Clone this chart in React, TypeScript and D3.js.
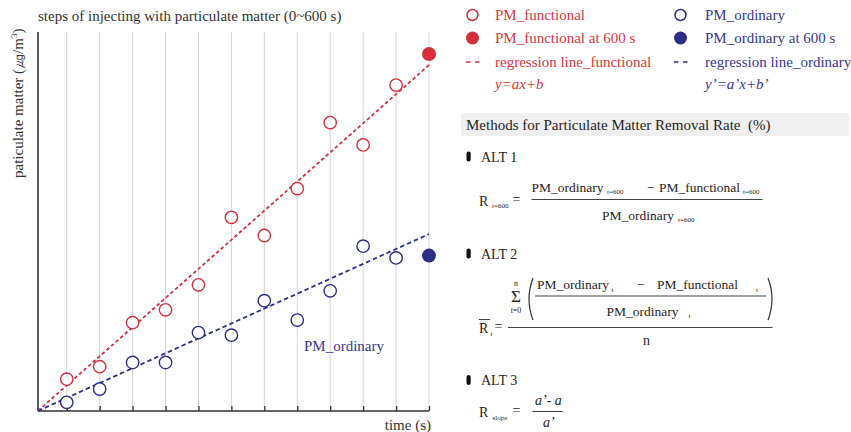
import React, { useEffect, useRef } from "react";
import * as d3 from "d3";

// sampling times (s) for the open markers
const times = [50, 100, 150, 200, 250, 300, 350, 400, 450, 500, 550];
// particulate matter readings (relative units)
const functionalValues = [8.4, 11.7, 23.3, 26.7, 33.3, 51.1, 46.3, 58.7, 76.1, 70.2, 86.0];
const ordinaryValues = [2.3, 5.8, 12.8, 12.8, 20.7, 20.0, 29.1, 24.0, 31.7, 43.5, 40.4];
const finalTime = 600;
const functionalAt600 = 94.2;
const ordinaryAt600 = 41.0;
// regression lines y = a*t + b
const functionalFit = { a: 0.1537, b: -0.94 };
const ordinaryFit = { a: 0.0786, b: -0.48 };
const gridTimes = [50, 100, 150, 200, 250, 300, 350, 400, 450, 500, 550, 600];

const RED = "#d42f3a";
const BLUE = "#2c2f88";
const RED_TEXT = "#d9363f";
const BLUE_TEXT = "#363994";
const INK = "#262626";

const Chart = () => {
    const gRef = useRef<SVGGElement>(null);

    useEffect(() => {
        const g = d3.select(gRef.current);
        g.selectAll("*").remove();

        const left = 38, top = 32, bottom = 411, right = 429;

        const x = d3.scaleLinear().domain([0, finalTime]).range([33.8, right]);
        const y = d3.scaleLinear().domain([0, 100]).range([bottom, top]);

        // vertical grid
        g.append("g")
            .selectAll("line")
            .data(gridTimes)
            .enter()
            .append("line")
            .attr("x1", d => x(d))
            .attr("x2", d => x(d))
            .attr("y1", top)
            .attr("y2", bottom)
            .attr("stroke", "#d4d4d4")
            .attr("stroke-width", 1);

        // bottom axis with inward ticks, no labels
        const xAxis = d3.axisBottom(x)
            .tickValues(gridTimes)
            .tickSizeInner(-5)
            .tickSizeOuter(0)
            .tickFormat(() => "");

        const ax = g.append("g")
            .attr("transform", `translate(0,${bottom})`)
            .call(xAxis);
        ax.select(".domain").remove();
        ax.selectAll("line").attr("stroke", "#333").attr("stroke-width", 1.3);

        g.append("line")
            .attr("x1", left).attr("x2", right)
            .attr("y1", bottom).attr("y2", bottom)
            .attr("stroke", "#333").attr("stroke-width", 1.6);

        g.append("line")
            .attr("x1", left).attr("x2", left)
            .attr("y1", top).attr("y2", bottom)
            .attr("stroke", "#333").attr("stroke-width", 1.6);

        // regression lines, starting at the plot corner
        const tStart = x.invert(left);
        const fits = [
            { fit: functionalFit, color: RED, dash: "3.5 2.6" },
            { fit: ordinaryFit, color: BLUE, dash: "4.5 3" },
        ];
        fits.forEach(f => {
            g.append("line")
                .attr("x1", x(tStart))
                .attr("y1", y(f.fit.a * tStart + f.fit.b))
                .attr("x2", x(finalTime))
                .attr("y2", y(f.fit.a * finalTime + f.fit.b))
                .attr("stroke", f.color)
                .attr("stroke-width", 1.8)
                .attr("stroke-dasharray", f.dash);
        });

        // open markers
        const series = [
            { values: functionalValues, color: RED },
            { values: ordinaryValues, color: BLUE },
        ];
        series.forEach(s => {
            g.append("g")
                .selectAll("circle")
                .data(s.values)
                .enter()
                .append("circle")
                .attr("cx", (d, i) => x(times[i]))
                .attr("cy", d => y(d))
                .attr("r", 6.2)
                .attr("fill", "white")
                .attr("stroke", s.color)
                .attr("stroke-width", 1.4);
        });

        // final readings at 600 s
        [
            { v: functionalAt600, color: RED },
            { v: ordinaryAt600, color: BLUE },
        ].forEach(p => {
            g.append("circle")
                .attr("cx", x(finalTime))
                .attr("cy", y(p.v))
                .attr("r", 7)
                .attr("fill", p.color);
        });
    }, []);

    return <g ref={gRef}></g>;
};

const Sub = ({ x, y, children, size = 7, anchor = "start" }: any) => (
    <text x={x} y={y} fontSize={size} textAnchor={anchor}>{children}</text>
);

const Bullet = ({ y }: { y: number }) => (
    <rect x={466.5} y={y - 5} width={4.2} height={10} rx={2} fill="#111" />
);

const App = () => {
    return (
        <svg
            width={851}
            height={432}
            style={{ position: "absolute", left: 0, top: 0, background: "white" }}
        >
            <style>{`text { font-family: "Liberation Serif", "Times New Roman", serif; }`}</style>
            <text x={38} y={21} fontSize={15} fill="#333">
                steps of injecting with particulate matter (0~600 s)
            </text>
            <text transform="translate(23,178) rotate(-90)" fontSize={15} fill="#333">
                paticulate matter (㎍/m<tspan fontSize={9} dy={-6}>3</tspan><tspan dy={6}>)</tspan>
            </text>
            <Chart />
            <text x={304} y={351} fontSize={15} fill={BLUE_TEXT}>PM_ordinary</text>
            <text x={431} y={430} fontSize={15} fill="#333" textAnchor="end">time (s)</text>

            {/* legend */}
            <circle cx={472.5} cy={15} r={5.5} fill="white" stroke={RED} strokeWidth={1.5} />
            <circle cx={472.5} cy={38} r={6.5} fill={RED} />
            <line x1={466} x2={480} y1={62} y2={62} stroke={RED} strokeWidth={1.6} strokeDasharray="4.5 4.5" />
            <g fontSize={15} fill={RED_TEXT}>
                <text x={495} y={20}>PM_functional</text>
                <text x={495} y={43}>PM_functional at 600 s</text>
                <text x={495} y={67}>regression line_functional</text>
                <text x={495} y={89} fontStyle="italic">y=ax+b</text>
            </g>
            <circle cx={680.5} cy={15} r={5.5} fill="white" stroke={BLUE} strokeWidth={1.5} />
            <circle cx={680.5} cy={38} r={6.5} fill={BLUE} />
            <line x1={674} x2={688} y1={62} y2={62} stroke={BLUE} strokeWidth={1.6} strokeDasharray="4.5 4.5" />
            <g fontSize={15} fill={BLUE_TEXT}>
                <text x={705} y={20}>PM_ordinary</text>
                <text x={705} y={43}>PM_ordinary at 600 s</text>
                <text x={705} y={67}>regression line_ordinary</text>
                <text x={705} y={89} fontStyle="italic">y’=a’x+b’</text>
            </g>

            {/* methods box */}
            <rect x={461} y={113} width={388} height={23} rx={3} fill="#efeff0" />
            <text x={466} y={130} fontSize={15} fill={INK} style={{ whiteSpace: "pre" }}>
                Methods for Particulate Matter Removal Rate  (%)
            </text>

            <g fill={INK} fontSize={14}>
                {/* ALT 1 */}
                <Bullet y={156.5} />
                <text x={481} y={161.5}>ALT 1</text>
                <text x={479} y={206}>R</text>
                <Sub x={492} y={207.5}>t=600</Sub>
                <text x={512.5} y={204}>=</text>
                <g fontSize={13.5}>
                    <text x={531.5} y={192}>PM_ordinary</text>
                    <text x={647} y={192}>−</text>
                    <text x={659} y={192}>PM_functional</text>
                    <text x={602} y={220}>PM_ordinary</text>
                </g>
                <Sub x={607} y={193.5}>t=600</Sub>
                <Sub x={743} y={193.5}>t=600</Sub>
                <line x1={531.5} x2={762.5} y1={199.5} y2={199.5} stroke="#444" strokeWidth={1.2} />
                <Sub x={678} y={222}>t=600</Sub>

                {/* ALT 2 */}
                <Bullet y={253.5} />
                <text x={481} y={258.5}>ALT 2</text>
                <text x={479} y={333}>R</text>
                <line x1={479} x2={490} y1={319.5} y2={319.5} stroke="#444" strokeWidth={1} />
                <Sub x={490.5} y={336}>t</Sub>
                <text x={494.5} y={331}>=</text>
                <Sub x={516} y={286} size={8} anchor="middle">n</Sub>
                <text x={516} y={302} fontSize={17} textAnchor="middle">Σ</text>
                <Sub x={516} y={313} size={8} anchor="middle">t=0</Sub>
                <path d="M533,278 Q525,299 533,320" fill="none" stroke="#333" strokeWidth={1.2} />
                <path d="M768,278 Q776,299 768,320" fill="none" stroke="#333" strokeWidth={1.2} />
                <g fontSize={13.5}>
                    <text x={537} y={289}>PM_ordinary</text>
                    <text x={637} y={289}>−</text>
                    <text x={657} y={289}>PM_functional</text>
                    <text x={606.5} y={315.5}>PM_ordinary</text>
                </g>
                <Sub x={611.5} y={292}>t</Sub>
                <Sub x={756} y={292}>t</Sub>
                <line x1={535} x2={766.5} y1={296} y2={296} stroke="#444" strokeWidth={1.2} />
                <Sub x={688.5} y={318}>t</Sub>
                <line x1={508} x2={772.5} y1={327.5} y2={327.5} stroke="#444" strokeWidth={1.2} />
                <text x={646.5} y={345} textAnchor="middle">n</text>

                {/* ALT 3 */}
                <Bullet y={380} />
                <text x={481} y={384.5}>ALT 3</text>
                <text x={479} y={416.5}>R</text>
                <Sub x={492.5} y={420}>slope</Sub>
                <text x={512.5} y={415}>=</text>
                <text x={535} y={405} fontStyle="italic">a’- a</text>
                <line x1={532.5} x2={562.5} y1={411.5} y2={411.5} stroke="#444" strokeWidth={1.1} />
                <text x={543} y={427} fontStyle="italic">a’</text>
            </g>
        </svg>
    );
};

export default App;
